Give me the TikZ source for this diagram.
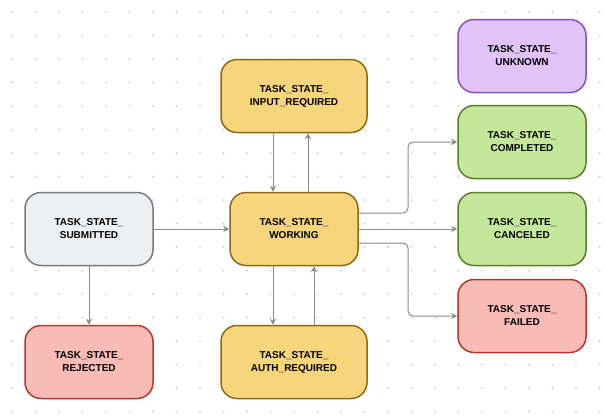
\documentclass[tikz,border=0pt]{standalone}
\usepackage{fontspec}
\setmainfont{Liberation Sans}
\usetikzlibrary{arrows.meta}
\definecolor{ggf}{HTML}{EEEFF1}\definecolor{ggd}{HTML}{777A80}
\definecolor{rf}{HTML}{F8BBB6}\definecolor{rd}{HTML}{B03A2E}
\definecolor{yf}{HTML}{F7D57A}\definecolor{yd}{HTML}{8A6A14}
\definecolor{pf}{HTML}{E0C3F7}\definecolor{pd}{HTML}{8A4FBF}
\definecolor{gf}{HTML}{C5E79A}\definecolor{gd}{HTML}{5A7F2A}
\definecolor{ar}{HTML}{8A8A8A}
\begin{document}
\begin{tikzpicture}[x=1pt,y=-1pt,
 st/.style={rounded corners=16pt,line width=1.5pt,align=center,font=\fontsize{10}{13}\selectfont\bfseries,minimum height=73pt,minimum width=128pt,inner sep=0pt},
 gry/.style={st,fill=ggf,draw=ggd},
 red/.style={st,fill=rf,draw=rd},
 yel/.style={st,fill=yf,draw=yd},
 pur/.style={st,fill=pf,draw=pd},
 grn/.style={st,fill=gf,draw=gd},
 ar/.style={draw=ar,line width=1pt,-{Stealth[length=6pt,width=6pt]},rounded corners=5pt}]
\useasboundingbox (0,0) rectangle (605,416);
\fill[white] (0,0) rectangle (605,416);
\foreach \i in {0,...,25}{\foreach \j in {0,...,17}{\fill[black!22] (12+23.5*\i,12+23.5*\j) circle (1pt);}}
\node[gry] (sub) at (89,229) {TASK\_STATE\_\\SUBMITTED};
\node[red] (rej) at (89,362) {TASK\_STATE\_\\REJECTED};
\node[yel] (wrk) at (294,229) {TASK\_STATE\_\\WORKING};
\node[yel,minimum width=146pt] (inp) at (294,96) {TASK\_STATE\_\\INPUT\_REQUIRED};
\node[yel,minimum width=146pt] (aut) at (294,362) {TASK\_STATE\_\\AUTH\_REQUIRED};
\node[pur] (unk) at (522,56) {TASK\_STATE\_\\UNKNOWN};
\node[grn] (com) at (522,142) {TASK\_STATE\_\\COMPLETED};
\node[grn] (can) at (522,229) {TASK\_STATE\_\\CANCELED};
\node[red] (fai) at (522,316) {TASK\_STATE\_\\FAILED};
\draw[ar] (sub) -- (wrk);
\draw[ar] (sub) -- (rej);
\draw[ar] (wrk) -- (can);
\draw[ar] (wrk.east|-0,213) -| (408,142) -- (com.west|-0,142);
\draw[ar] (wrk.east|-0,243) -| (408,316) -- (fai.west|-0,316);
\draw[ar] (inp.south-|273,0) -- (wrk.north-|273,0);
\draw[ar] (wrk.north-|308,0) -- (inp.south-|308,0);
\draw[ar] (wrk.south-|273,0) -- (aut.north-|273,0);
\draw[ar] (aut.north-|314,0) -- (wrk.south-|314,0);
\end{tikzpicture}
\end{document}
